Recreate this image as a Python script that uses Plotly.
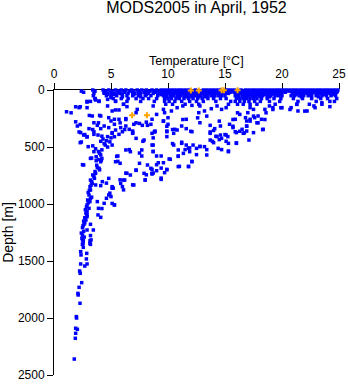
import plotly.graph_objects as go

# ---------------- data ----------------
# surface layers: temperatures observed at each (near-)standard depth
temp_0m = [3.4, 4.3, 4.8, 5.4, 5.9, 6.3, 6.8, 7.3, 7.7, 8.1, 8.6, 9.0, 9.4, 9.7, 10.0, 10.3, 10.6, 10.9, 11.2, 11.5,
           11.8, 12.4, 13.1, 13.4, 13.7, 14.0, 14.3, 14.6, 15.2, 15.5, 15.8, 16.4, 16.8, 17.1, 17.4, 17.7, 18.0, 18.3,
           18.6, 18.9, 19.2, 19.5, 19.8, 20.1, 20.4, 20.7, 21.0, 21.3, 21.6, 21.9, 22.2, 22.5, 22.8, 23.1, 23.4, 23.7,
           24.0, 24.3, 24.6, 24.9]
temp_10m = [2.4, 3.6, 4.5, 5.1, 5.7, 6.1, 6.6, 7.0, 7.5, 8.0, 8.4, 8.8, 9.2, 9.55, 9.9, 10.15, 10.5, 10.75, 11.05, 11.4,
            11.65, 11.95, 12.25, 12.6, 12.85, 13.2, 13.5, 13.75, 14.1, 14.35, 14.7, 14.95, 15.3, 15.6, 15.85, 16.2,
            16.5, 16.75, 17.05, 17.4, 17.65, 17.95, 18.3, 18.55, 18.85, 19.2, 19.45, 19.75, 20.1, 20.35, 20.65, 20.95,
            21.3, 21.55, 21.85, 22.2, 22.45, 22.75, 23.1, 23.35, 23.65, 23.95, 24.3, 24.55, 24.85]
temp_20m = [2.6, 4.4, 5.0, 5.6, 6.2, 6.9, 7.4, 7.9, 8.3, 8.9, 9.3, 9.65, 9.95, 10.25, 10.6, 10.9, 11.2, 11.5, 11.85, 12.15,
            12.45, 12.75, 13.05, 13.35, 13.65, 13.95, 14.25, 14.55, 14.85, 15.15, 15.45, 15.8, 16.1, 16.4, 16.7, 17.0,
            17.3, 17.6, 17.9, 18.2, 18.5, 18.8, 19.1, 19.4, 19.7, 20.0, 20.3, 20.9, 21.2, 21.5, 21.8, 22.1, 22.4,
            22.7, 23.0, 23.3, 23.6, 23.9, 24.2, 24.5, 24.8]
temp_30m = [3.5, 4.7, 5.3, 5.8, 6.5, 7.1, 7.6, 8.2, 8.7, 9.2, 9.6, 9.9, 10.2, 10.5, 10.8, 11.1, 11.4, 11.7, 12.0, 12.3,
            12.6, 12.9, 13.2, 13.5, 13.8, 14.1, 14.4, 14.7, 15.0, 15.3, 16.0, 16.3, 16.6, 16.9, 17.2, 17.5, 17.8, 18.1,
            18.4, 18.7, 19.0, 19.3, 19.6, 19.9, 21.0, 21.3, 21.6, 21.9, 22.2, 22.6, 23.0, 23.4, 23.8, 24.2, 24.6]
temp_40m = [5.2, 6.0, 7.0, 8.1, 9.4, 9.8, 10.4, 11.0, 11.6, 12.2, 12.8, 13.4, 14.0, 14.6, 16.1, 16.7, 17.3, 17.9, 18.5,
            19.1, 19.8, 21.2, 21.8, 22.4, 23.1, 23.7, 24.4]
temp_50m = [3.45, 4.6, 5.0, 5.5, 6.4, 6.9, 7.4, 8.0, 8.5, 9.1, 9.6, 9.9, 10.2, 10.5, 10.8, 11.1, 11.4, 11.7, 12.0, 12.3,
            12.6, 12.9, 13.2, 13.5, 13.8, 14.1, 14.4, 14.7, 15.0, 15.9, 16.2, 16.5, 16.8, 17.1, 17.4, 17.7, 18.0, 18.3,
            18.7, 19.0, 19.4, 19.7, 20.0, 20.8, 21.1, 21.5, 21.9, 22.3, 22.6, 23.0, 23.5, 23.9, 24.3, 24.7]
temp_60m = [6.0, 7.6, 9.8, 10.3, 10.9, 11.5, 12.1, 12.7, 13.3, 14.0, 16.1, 16.6, 17.0, 17.6, 18.1, 18.9, 21.7, 23.2]
temp_75m = [3.6, 5.2, 5.9, 6.5, 7.2, 7.8, 8.3, 9.0, 9.7, 10.0, 10.3, 10.7, 11.0, 11.4, 11.8, 12.2, 12.6, 13.0, 13.5,
            14.0, 14.6, 15.1, 16.0, 16.3, 16.6, 16.9, 17.2, 17.5, 17.8, 18.2, 18.7, 19.3, 19.9, 21.0, 21.8, 22.6, 23.4,
            24.0, 24.8]
temp_100m = [2.9, 3.2, 3.95, 5.4, 6.4, 7.6, 8.8, 9.7, 10.1, 10.6, 11.2, 11.9, 12.5, 13.1, 14.2, 15.5, 15.9, 16.3, 16.7,
             17.1, 17.6, 18.1, 18.9, 19.8, 21.4, 23.0, 24.2, 24.6]
temp_125m = [6.1, 9.8, 10.4, 11.5, 12.7, 15.3, 16.1, 16.6, 17.2, 17.8, 19.4, 21.3, 22.4, 23.5]

# scattered observations below the surface layer (temperature, depth)
scatter_temp = [
    1.1, 1.5, 1.9, 2.3, 2.9, 3.6, 3.1, 4.0, 1.9, 2.3, 2.2, 2.4, 2.7, 2.9, 3.9, 3.4, 3.3, 2.5, 3.7, 3.8,
    4.6, 4.9, 5.2, 5.3, 4.6, 5.8, 6.2, 6.1, 6.9, 5.5, 5.6, 6.3, 7.2, 8.0, 8.1, 8.7, 9.0, 9.4, 9.9, 9.4,
    10.1, 10.9, 11.0, 11.8, 11.5, 12.1, 12.5, 11.9, 11.2, 10.4, 8.7, 7.5, 6.6, 7.8, 8.7, 8.8, 6.9, 6.2, 5.8, 6.3,
    7.2, 8.1, 9.6, 9.9, 10.4, 11.3, 12.0, 12.6, 13.4, 13.7, 14.2, 14.5, 15.0, 15.1, 15.3, 14.7, 13.4, 12.8, 13.9, 14.5,
    15.7, 16.1, 15.7, 16.3, 16.0, 16.7, 16.9, 17.2, 17.5, 17.9, 18.3, 18.5, 18.6, 19.2, 19.9, 20.7, 21.3, 22.0, 22.8, 23.5,
    3.65, 4.4, 4.7, 3.95, 4.7, 5.0, 5.4, 2.2, 2.9, 3.36, 4.1, 4.7, 5.1, 5.4, 5.7, 6.1, 6.4, 7.2, 7.3, 6.3,
    5.7, 5.3, 4.8, 5.0, 2.05, 2.34, 3.07, 3.5, 3.8, 4.1, 4.4, 4.8, 5.3, 5.85, 6.3, 6.6, 7.0, 7.5, 7.75, 8.2,
    8.5, 8.6, 5.1, 5.7, 6.9, 3.5,
    8.7, 9.6, 9.0, 9.7, 10.0, 10.3, 10.8, 11.3, 12.1, 12.8, 12.7, 13.2, 13.8, 14.3, 14.7, 15.1, 11.6, 12.8, 9.6, 10.0,
    8.86, 9.9, 10.6, 11.6, 11.2, 16.3, 16.8, 15.9, 15.4, 15.7, 16.5, 16.0, 16.9, 13.7, 14.1, 14.6,
    17.2, 17.0, 17.5, 17.2, 16.9, 17.6, 17.9, 17.8, 18.2, 18.35, 16.9, 17.5, 18.5, 18.9, 19.2, 20.0, 20.8, 21.4, 22.2, 22.9,
    24.2,
    2.6, 2.9, 3.5, 3.86, 4.2, 4.7, 5.1, 5.3, 5.4, 6.0, 6.9, 7.2, 7.9, 8.6, 2.3, 3.0, 3.4, 3.5, 3.65, 4.5,
    5.1, 4.1, 4.2, 4.1, 3.95, 3.2, 2.6, 6.3, 6.7, 7.7, 8.6, 7.7, 5.6, 5.4, 5.8, 7.5, 8.2, 8.5, 7.2, 6.4,
    6.7, 7.9, 8.0, 8.6, 3.65, 3.5, 3.2, 3.35, 3.16, 3.65, 4.24, 4.8, 5.1, 5.85, 6.1, 7.0,
    4.3, 4.6, 4.9, 4.4, 5.0, 4.1, 4.7, 4.2, 3.9, 4.0, 3.7, 3.9, 4.15, 3.75, 4.0, 3.6, 3.4, 3.55, 3.3, 3.25,
    8.86, 9.9, 9.9, 10.5, 10.8, 12.1, 13.7, 14.0, 14.3, 14.6, 15.1, 15.25, 15.9, 16.6, 13.7, 14.0, 14.7, 15.3, 16.0, 14.4,
    15.3, 17.1, 8.7, 10.5, 11.2, 11.6, 12.2, 11.8, 11.9, 12.5, 12.8, 13.2, 10.9, 8.7, 13.4, 9.0, 9.4, 9.15, 9.6, 10.2,
    10.9, 11.35, 12.1, 10.9, 11.8, 8.6, 9.0, 9.9, 9.7, 8.6, 9.4,
]
scatter_depth = [
    191, 200, 147, 147, 106, 76, 223, 223, 279, 303, 368, 456, 391, 412, 288, 347, 597, 655, 620, 680,
    817, 905, 861, 1008, 950, 788, 790, 876, 832, 582, 626, 729, 705, 788, 744, 729, 655, 685, 700, 773,
    605, 582, 670, 670, 523, 626, 567, 508, 458, 470, 538, 553, 523, 450, 420, 368, 376, 347, 288, 259,
    288, 282, 273, 318, 347, 259, 362, 244, 229, 368, 406, 435, 391, 450, 535, 523, 523, 494, 450, 273,
    259, 200, 318, 362, 464, 376, 318, 273, 229, 288, 347, 259, 200, 171, 156, 171, 126, 185, 140, 112,
    88, 29, 38, 97, 82, 67, 97, 155, 155, 228, 228, 140, 184, 175, 175, 126, 146, 199, 170, 251,
    257, 257, 243, 272, 316, 374, 339, 287, 310, 339, 316, 330, 301, 330, 316, 345, 301, 293, 310, 310,
    301, 257, 374, 389, 360, 389,
    140, 170, 214, 199, 243, 184, 155, 140, 135, 140, 199, 184, 164, 140, 170, 155, 257, 287, 272, 301,
    360, 360, 345, 339, 316, 214, 243, 257, 301, 330, 345, 374, 316, 310, 339, 316,
    155, 199, 170, 257, 272, 243, 228, 287, 257, 345, 360, 374, 170, 140, 155, 155, 155, 184, 184, 155,
    146,
    395, 409, 366, 395, 405, 409, 380, 410, 351, 366, 380, 424, 439, 380, 462, 497, 490, 541, 515, 483,
    483, 570, 600, 629, 687, 600, 658, 526, 541, 526, 483, 579, 579, 629, 643, 643, 658, 687, 702, 731,
    746, 731, 790, 731, 731, 760, 790, 819, 848, 833, 804, 775, 848, 819, 790, 833,
    430, 445, 455, 470, 420, 450, 500, 525, 540, 555, 585, 610, 615, 660, 700, 715, 745, 775, 805, 835,
    366, 366, 409, 380, 351, 366, 380, 355, 409, 395, 395, 409, 366, 380, 439, 462, 424, 468, 468, 512,
    541, 439, 483, 483, 468, 483, 483, 512, 541, 512, 497, 497, 526, 541, 570, 579, 579, 638, 638, 608,
    579, 556, 629, 672, 672, 696, 708, 696, 725, 737, 784,
]

# deep column (cold water below ~850 m)
deep_temp = [3.2, 4.1, 5.1, 6.0, 4.8, 5.0, 3.07, 3.2, 3.15, 3.8, 4.4, 2.9, 3.07, 3.9, 4.2, 5.3, 5.1, 2.9, 2.9, 2.8,
             3.86, 4.1, 2.63, 3.2, 2.5, 2.9, 3.45, 2.5, 3.2, 2.5, 3.25, 2.55, 3.15,
             3.1, 3.0, 3.3, 2.95, 3.0, 2.85, 2.75, 2.8, 2.9, 2.7, 2.6, 2.7, 2.55, 2.6, 2.4, 2.65, 2.45,
             2.57, 3.16, 2.49, 3.2, 2.57, 2.34, 2.37, 2.87, 2.84, 2.34, 2.7, 2.9, 2.25, 2.3, 2.43, 2.2, 2.1, 2.12,
             2.28, 1.96, 1.98, 1.9, 2.05, 1.9, 1.87, 1.78]
deep_depth = [877, 839, 862, 848, 921, 935, 921, 950, 979, 979, 994, 1008, 1038, 1038, 1040, 1008, 995, 1067, 1111, 1140,
              1096, 1117, 1178, 1178, 1207, 1228, 1228, 1272, 1277, 1315, 1315, 1345, 1345,
              880, 900, 940, 965, 990, 1025, 1050, 1080, 1095, 1120, 1150, 1165, 1190, 1240, 1255, 1290, 1300,
              1322, 1322, 1354, 1354, 1380, 1418, 1447, 1433, 1482, 1526, 1544, 1526, 1588, 1608, 1690, 1731, 1784, 1798,
              1871, 1988, 2000, 2090, 2099, 2134, 2178, 2360]

# highlighted (orange) observations
orange_temp = [12.0, 12.7, 14.7, 14.9, 16.1, 6.85, 8.15]
orange_depth = [5, 5, 3, 3, 2, 222, 222]

x_ticks = [0, 5, 10, 15, 20, 25]
y_ticks = [0, 500, 1000, 1500, 2000, 2500]

# ---------------- assemble ----------------
layers = [(0, temp_0m), (10, temp_10m), (20, temp_20m), (30, temp_30m), (40, temp_40m),
          (50, temp_50m), (60, temp_60m), (75, temp_75m), (100, temp_100m), (125, temp_125m)]
blue_t, blue_d = [], []
for d, temps in layers:
    blue_t += temps
    blue_d += [d] * len(temps)
blue_t += scatter_temp + deep_temp
blue_d += scatter_depth + deep_depth

fig = go.Figure()
fig.add_trace(go.Scatter(x=blue_t, y=blue_d, mode="markers", cliponaxis=False,
                         marker=dict(symbol="square", size=3.5, color="#0000FF", line=dict(width=0))))
fig.add_trace(go.Scatter(x=orange_temp, y=orange_depth, mode="markers", cliponaxis=False,
                         marker=dict(symbol="cross", size=5, color="#FFA500", line=dict(width=0))))

font = "Liberation Sans, Arial, Helvetica, sans-serif"
fig.update_layout(
    width=348, height=384,
    margin=dict(l=54, r=9, t=90, b=9, autoexpand=False),
    paper_bgcolor="white", plot_bgcolor="white",
    showlegend=False,
    font=dict(family=font, size=12, color="black"),
    title=dict(text="MODS2005 in April, 1952", font=dict(family=font, size=16, color="black"),
               x=0.5, xref="paper", xanchor="center", y=0.995, yref="container", yanchor="top"),
    annotations=[dict(text="Temperature [°C]", x=0.5, xref="paper", xanchor="center",
                      y=1, yref="paper", yanchor="bottom", yshift=21, showarrow=False, borderpad=0,
                      font=dict(family=font, size=12.5, color="black"))],
)
fig.update_xaxes(side="top", range=[0, 25], tickvals=x_ticks, ticks="outside", ticklen=6,
                 showline=True, linecolor="black", linewidth=1, tickcolor="black",
                 showgrid=False, zeroline=False, layer="below traces", automargin=False)
fig.update_yaxes(range=[2500, 0], tickvals=y_ticks, ticks="outside", ticklen=6,
                 showline=True, linecolor="black", linewidth=1, tickcolor="black",
                 showgrid=False, zeroline=False, layer="below traces", automargin=False,
                 title=dict(text="Depth [m]", standoff=8))

fig.write_html("out.html", config={"displayModeBar": False})

# remove the browser's default page margin so the 348x384 figure fills the window
with open("out.html", "r", encoding="utf-8") as f:
    html = f.read()
html = html.replace("<head>", "<head><style>html,body{margin:0;padding:0;overflow:hidden;}</style>", 1)
with open("out.html", "w", encoding="utf-8") as f:
    f.write(html)
